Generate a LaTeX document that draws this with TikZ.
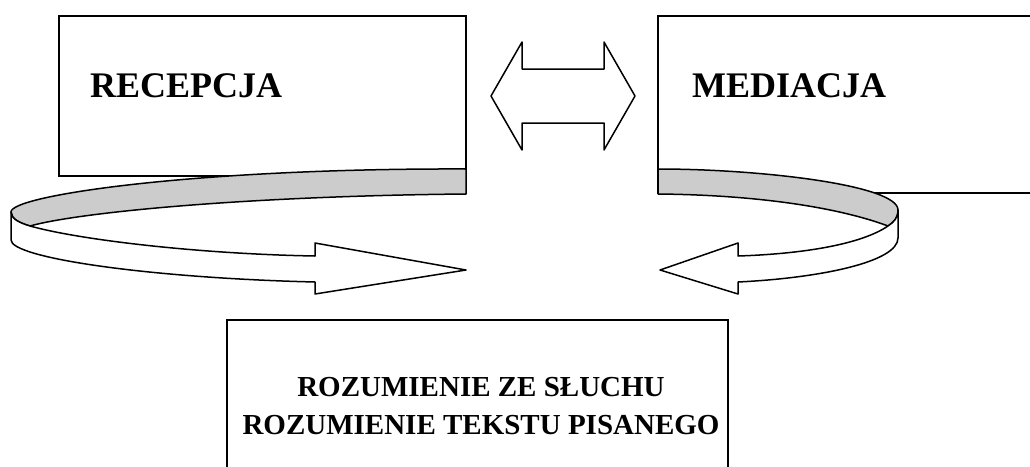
\documentclass[tikz,border=0pt]{standalone}
\usepackage{fontspec}
\setmainfont{Liberation Serif}
\definecolor{ribbongray}{gray}{0.8}

\begin{document}
\begin{tikzpicture}[x=1pt,y=-1pt,
  box/.style={draw,line width=1.5pt,rectangle,inner sep=0pt},
  title/.style={font=\fontsize{36}{43}\selectfont\bfseries,inner sep=0pt},
  ribbon/.style={draw,line width=1.5pt,line join=round,fill=white},
  back/.style={ribbon,fill=ribbongray}]
\path[use as bounding box,clip] (0,0) rectangle (1030,466);

\node[box,minimum width=407pt,minimum height=160pt] (recbox) at (262.5,96) {};
\node[box,minimum width=382pt,minimum height=177pt] (medbox) at (849,104.5) {};
\node[box,minimum width=501pt,minimum height=170pt] (rozbox) at (477.5,405) {};

\node[title,anchor=base west] (rec) at (90,97) {RECEPCJA};
\node[title,anchor=base west] (med) at (692,97) {MEDIACJA};
\node[font=\fontsize{29}{38}\selectfont\bfseries,align=center,inner sep=0pt] (roz) at (481,406)
  {ROZUMIENIE ZE SŁUCHU\\ROZUMIENIE TEKSTU PISANEGO};

% double arrow between the boxes
\path[ribbon] (491,96) -- (522,42) -- (522,69) -- (604,69) -- (604,42) -- (635,96)
  -- (604,150) -- (604,123) -- (522,123) -- (522,150) -- cycle;

% left curved arrow
\path[back] (466,169) .. controls (200,168) and (11,195) .. (11,212)
  .. controls (11,219) and (20,223) .. (30,226)
  .. controls (80,212) and (250,196) .. (466,194) -- cycle;
\path[ribbon] (11,212) -- (11,240) .. controls (11,258) and (150,278) .. (315,282)
  -- (315,294) -- (466,270) -- (315,243) -- (315,256)
  .. controls (200,254) and (80,240) .. (30,226)
  .. controls (20,223) and (11,219) .. (11,212) -- cycle;

% right curved arrow
\path[back] (658,169) .. controls (760,169) and (898,185) .. (898,210)
  .. controls (898,218) and (894,222) .. (888,226)
  .. controls (840,208) and (760,195) .. (658,194) -- cycle;
\path[ribbon] (898,210) -- (898,238) .. controls (898,262) and (820,278) .. (738,282)
  -- (738,294) -- (660,270) -- (738,243) -- (738,256)
  .. controls (800,254) and (860,245) .. (888,226)
  .. controls (894,222) and (898,218) .. (898,210) -- cycle;
\end{tikzpicture}
\end{document}
